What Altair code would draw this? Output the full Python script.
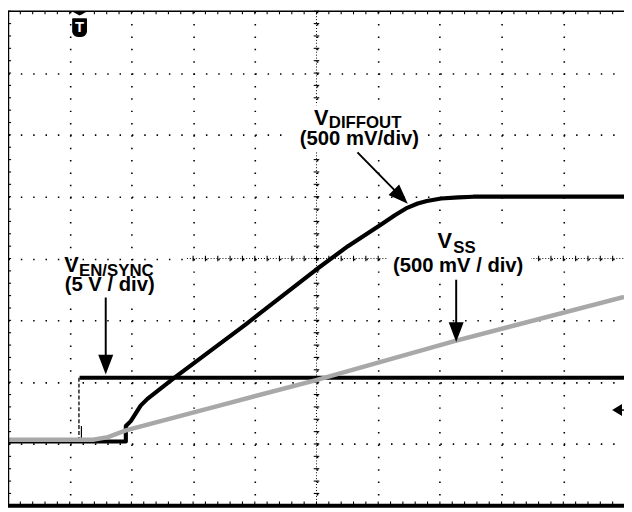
import altair as alt
import pandas as pd

# ---------------- data (screen divisions: x 0..10, y 0..8) ----------------
XMAX = 624 / 62.5          # visible horizontal span in divisions
YMAX = 8.0

en_t = [0.00, 1.15, 1.16, 9.984]
en_v = [1.05, 1.05, 2.07, 2.07]

diff_t = [0.00, 1.91, 1.91, 1.99, 2.15, 2.26, 2.71, 3.86, 4.98, 5.51, 6.06, 6.27, 6.47, 6.64,
          6.79, 7.02, 7.30, 7.54, 9.984]
diff_v = [1.04, 1.04, 1.29, 1.37, 1.62, 1.73, 2.08, 2.94, 3.81, 4.20, 4.56, 4.70, 4.82, 4.89,
          4.93, 4.97, 4.99, 5.00, 5.00]

ss_t = [0.00, 1.38, 1.62, 1.91, 3.38, 4.98, 7.22, 9.984]
ss_v = [1.07, 1.07, 1.11, 1.22, 1.61, 2.03, 2.66, 3.38]

grid_x = [1, 2, 3, 4, 5, 6, 7, 8, 9]
grid_y = [1, 2, 3, 4, 5, 6, 7]

label_main = ["V", "V", "V"]
label_sub = ["EN/SYNC", "DIFFOUT", "SS"]
label_scale = ["(5 V / div)", "(500 mV/div)", "(500 mV / div)"]

FONT = "Liberation Sans, Arial, Helvetica, sans-serif"
GRAY = "#a8a8a8"

xs = alt.Scale(domain=[0, XMAX], nice=False, zero=False)
ys = alt.Scale(domain=[0, YMAX], nice=False, zero=False)
AXX = alt.Axis(values=grid_x, grid=True, gridDash=[1.5, 11.025], gridColor="black",
               gridWidth=1.6, gridOpacity=1, labels=False, ticks=False, domain=False, title=None,
               minExtent=0, maxExtent=0, offset=0)
AXY = alt.Axis(values=grid_y, grid=True, gridDash=[1.5, 11.0], gridColor="black",
               gridWidth=1.6, gridOpacity=1, labels=False, ticks=False, domain=False, title=None,
               minExtent=0, maxExtent=0, offset=0)


def X(f="x"):
    return alt.X(f"{f}:Q", scale=xs, axis=AXX)


def Y(f="y"):
    return alt.Y(f"{f}:Q", scale=ys, axis=AXY)


# ---------------- tick marks on frame and centre lines ----------------
rows = []
k = 0
while k * 0.2 <= XMAX + 1e-9:
    t = round(k * 0.2, 3)
    rows.append(dict(x=t, x2=t, y=YMAX, y2=YMAX - 0.05))       # top edge
    rows.append(dict(x=t, x2=t, y=0.0, y2=0.07))               # bottom edge
    if t >= 2.9:
        rows.append(dict(x=t, x2=t, y=4 - 0.045, y2=4 + 0.045))  # centre horizontal
    k += 1
for k in range(41):
    t = round(k * 0.2, 3)
    rows.append(dict(x=0.0, x2=0.05, y=t, y2=t))               # left edge
    rows.append(dict(x=5 - 0.045, x2=5 + 0.045, y=t, y2=t))    # centre vertical
ticks = pd.DataFrame(rows)

grid_base = alt.Chart(pd.DataFrame({"x": [0.0], "y": [0.0]})).mark_point(opacity=0).encode(x=X(), y=Y())

tick_layer = alt.Chart(ticks).mark_rule(color="black", strokeWidth=1.1).encode(
    x=X(), x2="x2:Q", y=Y(), y2="y2:Q")

centre = pd.DataFrame({"x": [5.0, 2.9], "x2": [5.0, XMAX], "y": [0.0, 4.0], "y2": [YMAX, 4.0]})
centre_layer = alt.Chart(centre).mark_rule(color="black", strokeWidth=1.0, strokeDash=[1, 2]).encode(
    x=X(), x2="x2:Q", y=Y(), y2="y2:Q")

frame = pd.DataFrame({"x": [0.0, 0.0, 0.0], "x2": [XMAX, 0.0, XMAX],
                      "y": [0.0, 0.0, YMAX], "y2": [0.0, YMAX, YMAX], "w": [4.0, 2.5, 1.5]})
frame_layer = alt.Chart(frame).mark_rule(color="black").encode(
    x=X(), x2="x2:Q", y=Y(), y2="y2:Q", strokeWidth=alt.StrokeWidth("w:Q", scale=None))

# ---------------- traces ----------------
en_df = pd.DataFrame({"x": en_t, "y": en_v, "seg": [0, 0, 1, 1], "i": range(4)})
en_layer = alt.Chart(en_df).mark_line(color="black", strokeWidth=4.0).encode(
    x=X(), y=Y(), detail="seg:N", order="i:Q")
rise = pd.DataFrame({"x": [en_t[1], en_t[1]], "y": [en_v[1], en_v[2]], "i": [0, 1]})
rise_layer = alt.Chart(rise).mark_line(color="black", strokeWidth=1.3, strokeDash=[4, 2]).encode(
    x=X(), y=Y(), order="i:Q")
spike = pd.DataFrame({"x": [1.19, 1.19], "y": [1.05, 1.29], "i": [0, 1]})
spike_layer = alt.Chart(spike).mark_line(color="black", strokeWidth=1.2).encode(
    x=X(), y=Y(), order="i:Q")

diff_df = pd.DataFrame({"x": diff_t, "y": diff_v, "i": range(len(diff_t))})
diff_layer = alt.Chart(diff_df).mark_line(color="black", strokeWidth=4.2, strokeJoin="round").encode(
    x=X(), y=Y(), order="i:Q")

ss_df = pd.DataFrame({"x": ss_t, "y": ss_v, "i": range(len(ss_t))})
ss_layer = alt.Chart(ss_df).mark_line(color=GRAY, strokeWidth=4.5).encode(
    x=X(), y=Y(), order="i:Q")

# ---------------- label boxes, arrows, markers ----------------
boxes = pd.DataFrame({"x": [0.80, 4.59, 6.14], "x2": [2.56, 6.78, 8.48],
                      "y": [3.96, 6.48, 4.42], "y2": [3.34, 5.73, 3.64]})
box_layer = alt.Chart(boxes).mark_rect(color="white").encode(x=X(), x2="x2:Q", y=Y(), y2="y2:Q")

shafts = pd.DataFrame({"x": [1.584, 5.664, 7.264], "x2": [1.584, 6.36, 7.264],
                       "y": [3.369, 5.717, 3.657], "y2": [2.30, 5.01, 2.80]})
shaft_layer = alt.Chart(shafts).mark_rule(color="black", strokeWidth=2).encode(
    x=X(), x2="x2:Q", y=Y(), y2="y2:Q")

heads = pd.DataFrame({"x": [1.584, 6.48, 7.264], "y": [2.124, 4.886, 2.651], "a": [0, 315, 0]})
head_layer = alt.Chart(heads).mark_point(
    shape="M0,0 L-0.38,-1 L0.38,-1 Z", size=1600, filled=True, color="black", opacity=1).encode(
    x=X(), y=Y(), angle=alt.Angle("a:Q", scale=None))

gnd = pd.DataFrame({"x": [9.792], "y": [1.549]})
gnd_layer = alt.Chart(gnd).mark_point(
    shape="M0,0 L1,-0.6 L1,0.6 Z", size=400, filled=True, color="black", opacity=1).encode(x=X(), y=Y())
gnd_line = pd.DataFrame({"x": [9.87], "x2": [XMAX], "y": [1.549], "y2": [1.549]})
gnd_line_layer = alt.Chart(gnd_line).mark_rule(color="black", strokeWidth=1.5).encode(
    x=X(), x2="x2:Q", y=Y(), y2="y2:Q")

trig_tri = pd.DataFrame({"x": [1.16], "y": [YMAX]})
trig_tri_layer = alt.Chart(trig_tri).mark_point(
    shape="M-1,0 L1,0 L0,0.55 Z", size=256, filled=True, color="black", opacity=1).encode(x=X(), y=Y())
badge = pd.DataFrame({"x": [1.04], "x2": [1.28], "y": [7.888], "y2": [7.585]})
badge_layer = alt.Chart(badge).mark_rect(color="black", cornerRadiusBottomLeft=6,
                                         cornerRadiusBottomRight=6, cornerRadiusTopLeft=1,
                                         cornerRadiusTopRight=1).encode(
    x=X(), x2="x2:Q", y=Y(), y2="y2:Q")
badge_t = pd.DataFrame({"x": [1.16], "y": [7.74], "t": ["T"]})
badge_t_layer = alt.Chart(badge_t).mark_text(color="white", font=FONT, fontWeight="bold",
                                             fontSize=15, baseline="middle", align="center").encode(
    x=X(), y=Y(), text="t:N")

# ---------------- texts ----------------
main_df = pd.DataFrame({"x": [0.912, 4.96, 6.96], "y": [3.784, 6.164, 4.168], "t": label_main})
main_layer = alt.Chart(main_df).mark_text(font=FONT, fontWeight="bold", fontSize=22, align="left",
                                          baseline="alphabetic", color="black").encode(
    x=X(), y=Y(), text="t:N")
sub_df = pd.DataFrame({"x": [1.152, 5.2, 7.216], "y": [3.721, 6.116, 4.088], "t": label_sub})
sub_layer = alt.Chart(sub_df).mark_text(font=FONT, fontWeight="bold", fontSize=17, align="left",
                                        baseline="alphabetic", color="black").encode(
    x=X(), y=Y(), text="t:N")
scale_df = pd.DataFrame({"x": [1.648, 5.696, 7.296], "y": [3.481, 5.844, 3.784], "t": label_scale})
scale_layer = alt.Chart(scale_df).mark_text(font=FONT, fontWeight="bold", fontSize=20.5, align="center",
                                            baseline="alphabetic", color="black").encode(
    x=X(), y=Y(), text="t:N")

chart = alt.layer(
    grid_base, centre_layer, tick_layer, box_layer,
    en_layer, rise_layer, spike_layer, diff_layer, ss_layer,
    shaft_layer, head_layer, gnd_layer, gnd_line_layer,
    trig_tri_layer, badge_layer, badge_t_layer,
    frame_layer, main_layer, sub_layer, scale_layer,
).properties(
    width=624, height=501,
    padding={"left": 0, "top": 0, "right": 0, "bottom": 3},
    autosize=alt.AutoSizeParams(type="none"),
    background="white",
).configure_view(strokeWidth=0)

chart.save("out.html", embed_options={"renderer": "svg", "actions": False})
